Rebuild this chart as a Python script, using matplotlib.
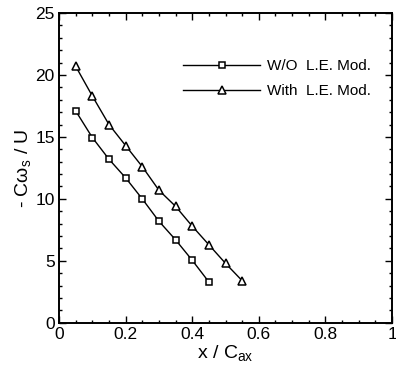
import matplotlib
matplotlib.use("Agg")
import matplotlib.pyplot as plt
from matplotlib.ticker import MultipleLocator

plt.rcParams["font.family"] = ["Liberation Sans", "DejaVu Sans"]

# datos
x_wo = [0.05, 0.10, 0.15, 0.20, 0.25, 0.30, 0.35, 0.40, 0.45]
y_wo = [17.1, 14.95, 13.2, 11.7, 10.0, 8.2, 6.7, 5.05, 3.3]

x_with = [0.05, 0.10, 0.15, 0.20, 0.25, 0.30, 0.35, 0.40, 0.45, 0.50, 0.55]
y_with = [20.7, 18.3, 16.0, 14.3, 12.6, 10.7, 9.4, 7.8, 6.3, 4.8, 3.4]

labels = ["W/O  L.E. Mod.", "With  L.E. Mod."]

fig = plt.figure(figsize=(3.96, 3.69), dpi=100)
ax = fig.add_axes([0.149, 0.125, 0.841, 0.840])

ax.plot(x_wo, y_wo, color="black", lw=1.0, marker="s", ms=5.0,
        mfc="white", mec="black", mew=1.1, label=labels[0])
ax.plot(x_with, y_with, color="black", lw=1.0, marker="^", ms=6.0,
        mfc="white", mec="black", mew=1.1, label=labels[1])

ax.set_xlim(0, 1)
ax.set_ylim(0, 25)
ax.xaxis.set_minor_locator(MultipleLocator(0.05))
ax.yaxis.set_major_locator(MultipleLocator(5))
ax.yaxis.set_minor_locator(MultipleLocator(1))
ax.set_xticks([0, 0.2, 0.4, 0.6, 0.8, 1.0])
ax.set_xticklabels(["0", "0.2", "0.4", "0.6", "0.8", "1"])

ax.tick_params(which="both", direction="in", top=True, right=True,
               labelsize=12.5, width=1.0)
ax.tick_params(which="major", length=5, pad=3)
ax.tick_params(which="minor", length=2.5)
for s in ax.spines.values():
    s.set_linewidth(1.4)

ax.set_xlabel(r"x / C$_{\mathregular{ax}}$", fontsize=14, labelpad=1)
ax.set_ylabel(r"- C$\mathregular{\omega_s}$ / U", fontsize=14, labelpad=2)

ax.legend(loc="upper right", bbox_to_anchor=(0.965, 0.88), frameon=False,
          fontsize=11, handlelength=5.0, handletextpad=0.5, labelspacing=0.7,
          borderaxespad=0.2)

fig.savefig("out.png", dpi=100)
